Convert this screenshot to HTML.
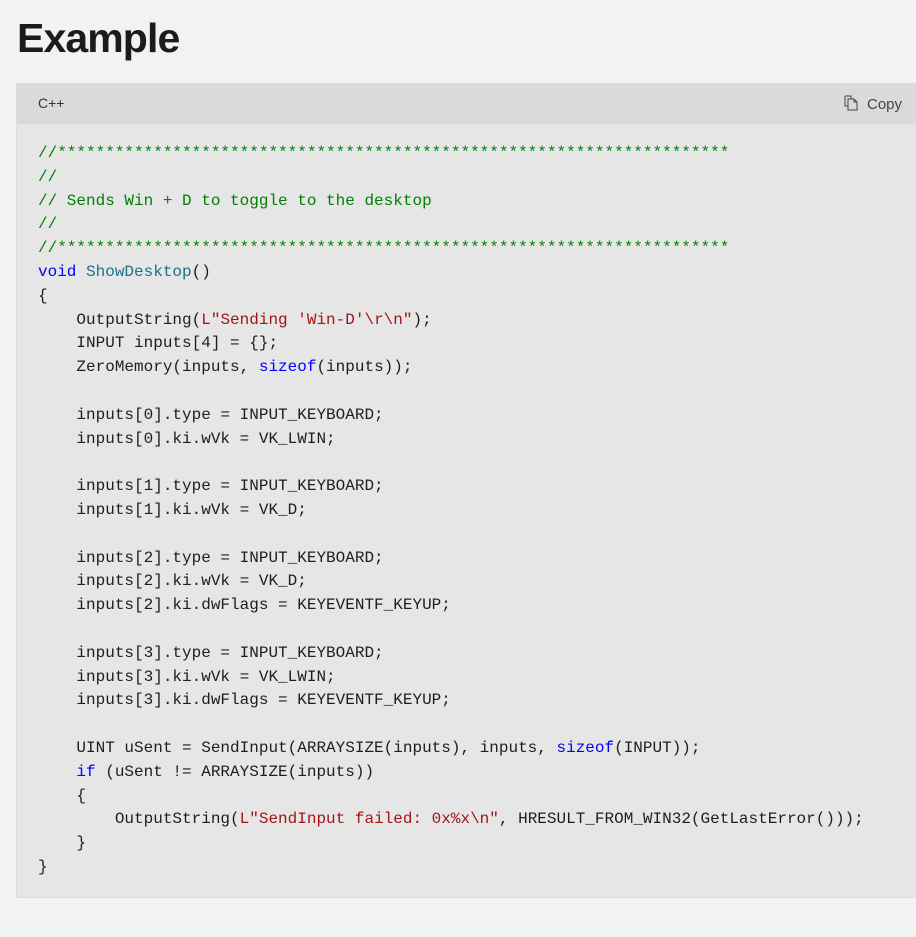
<!DOCTYPE html>
<html><head><meta charset="utf-8"><style>
body{margin:0;background:#f2f2f2;width:916px;height:937px;overflow:hidden;position:relative;font-family:"Liberation Sans",sans-serif}
h1{position:absolute;left:17px;top:15px;margin:0;font-size:41px;font-weight:bold;color:#1b1b1b;letter-spacing:-0.9px}
.box{position:absolute;left:16px;top:83px;width:910px;height:815px;background:#e6e6e6;border:1px solid #dcdcdc;box-sizing:border-box}
.hdr{position:absolute;left:0;top:0;right:0;height:40px;background:#dadada}
.lang{position:absolute;left:21px;top:11px;font-size:14px;color:#333}
.copy{position:absolute;left:826px;top:11px;font-size:15px;color:#444}
pre{position:absolute;left:21px;top:58px;margin:0;font-family:"Liberation Mono",monospace;font-size:16px;line-height:23.8px;color:#1e1e1e}
.c{color:#008000}.k{color:#0000ff}.t{color:#2b91af}.f{color:#1e6f8c}.s{color:#a31515}
</style></head><body>
<h1>Example</h1>
<div class="box"><div class="hdr"><span class="lang">C++</span><span class="copy"><svg width="16" height="16" viewBox="0 0 16 16" style="vertical-align:-2px;margin-right:8px"><path d="M2 1h6v3M2 1v10h3M5 4h6l3 3v8H5z M11 4v3h3" fill="none" stroke="#444" stroke-width="1"/></svg>Copy</span></div>
<pre><span class="c">//**********************************************************************
//
// Sends Win + D to toggle to the desktop
//
//**********************************************************************</span>
<span class="k">void</span> <span class="f">ShowDesktop</span>()
{
    OutputString(<span class="s">L"Sending 'Win-D'\r\n"</span>);
    INPUT inputs[4] = {};
    ZeroMemory(inputs, <span class="k">sizeof</span>(inputs));

    inputs[0].type = INPUT_KEYBOARD;
    inputs[0].ki.wVk = VK_LWIN;

    inputs[1].type = INPUT_KEYBOARD;
    inputs[1].ki.wVk = VK_D;

    inputs[2].type = INPUT_KEYBOARD;
    inputs[2].ki.wVk = VK_D;
    inputs[2].ki.dwFlags = KEYEVENTF_KEYUP;

    inputs[3].type = INPUT_KEYBOARD;
    inputs[3].ki.wVk = VK_LWIN;
    inputs[3].ki.dwFlags = KEYEVENTF_KEYUP;

    UINT uSent = SendInput(ARRAYSIZE(inputs), inputs, <span class="k">sizeof</span>(INPUT));
    <span class="k">if</span> (uSent != ARRAYSIZE(inputs))
    {
        OutputString(<span class="s">L"SendInput failed: 0x%x\n"</span>, HRESULT_FROM_WIN32(GetLastError()));
    }
}</pre></div>
</body></html>
